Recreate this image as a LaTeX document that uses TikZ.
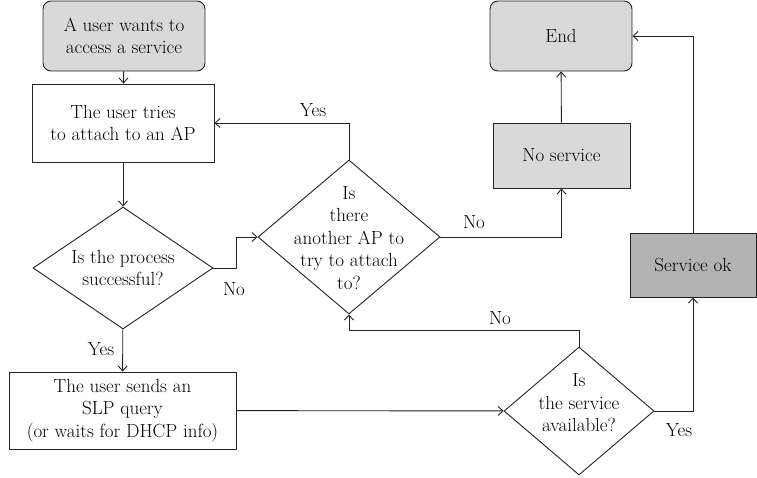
\documentclass[tikz,border=0pt]{standalone}
\usetikzlibrary{arrows.meta, shapes.geometric}
\definecolor{boxgray}{RGB}{217,217,217}
\definecolor{okgray}{RGB}{178,178,178}
\definecolor{inkgray}{RGB}{35,35,35}

\begin{document}
\begin{tikzpicture}[x=1pt, y=-1pt, >={Straight Barb[length=5pt, width=9pt]},
  line width=0.9pt, draw=inkgray,
  every node/.style={font=\rmfamily\fontsize{19}{22.5}\selectfont, text=black},
  stepbox/.style={draw=inkgray, line width=0.9pt, inner sep=0pt, align=center},
  termbox/.style={stepbox, rounded corners=8pt, fill=boxgray},
  askbox/.style={draw=inkgray, line width=0.9pt, diamond, inner sep=0pt}]
  \useasboundingbox (0,0) rectangle (757,477);

  % Start and end
  \node[termbox, minimum width=162, minimum height=70] (start) at (124,36)
    {A user wants to\\access a service};
  \node[termbox, minimum width=142, minimum height=70] (end) at (561,36) {End};

  % Boxes
  \node[stepbox, minimum width=182, minimum height=78] (try) at (123,123)
    {The user tries\\to attach to an AP};
  \node[stepbox, fill=boxgray, minimum width=137, minimum height=65] (nosrv)
    at (561.5,155.5) {No service};
  \node[stepbox, fill=okgray, minimum width=126, minimum height=64] (ok)
    at (693,265) {Service ok};
  \node[stepbox, minimum width=227, minimum height=77] (slp) at (122.5,410.5)
    {The user sends an\\SLP query\\(or waits for DHCP info)};

  % Decisions
  \node[askbox, minimum width=180, minimum height=122] (q1) at (123,268) {};
  \node[align=center] (q1txt) at (123,268) {Is the process\\successful?};
  \node[askbox, minimum width=182, minimum height=154] (q2) at (349,237) {};
  \node[align=center] (q2txt) at (349,238)
    {Is\\there\\another AP to\\try to attach\\to?};
  \node[askbox, minimum width=150, minimum height=128] (q3) at (579,411) {};
  \node[align=center] (q3txt) at (579,403) {Is\\the service\\available?};

  % Connectors
  \draw[->] (start) -- (try);
  \draw[->] (try) -- (q1);
  \draw[->] (q1.east) -- ++(23,0) |- (q2.west);
  \node (no1) at (234,289) {No};
  \draw[->] (q1) -- (slp);
  \node (yes1) at (101,349) {Yes};
  \draw[->] (q2.north) |- (try.east);
  \node (yes2) at (313,110) {Yes};
  \draw[->] (q2.east) -| (nosrv.south);
  \node (no2) at (474,222) {No};
  \draw[->] (nosrv) -- (end);
  \draw[->] (slp) -- (q3);
  \draw[->] (q3.north) -- ++(0,-16) -| (q2.south);
  \node (no3) at (500,318) {No};
  \draw[->] (q3.east) -| (ok.south);
  \node (yes3) at (679,430) {Yes};
  \draw[->] (ok.north) |- (end.east);
\end{tikzpicture}
\end{document}
